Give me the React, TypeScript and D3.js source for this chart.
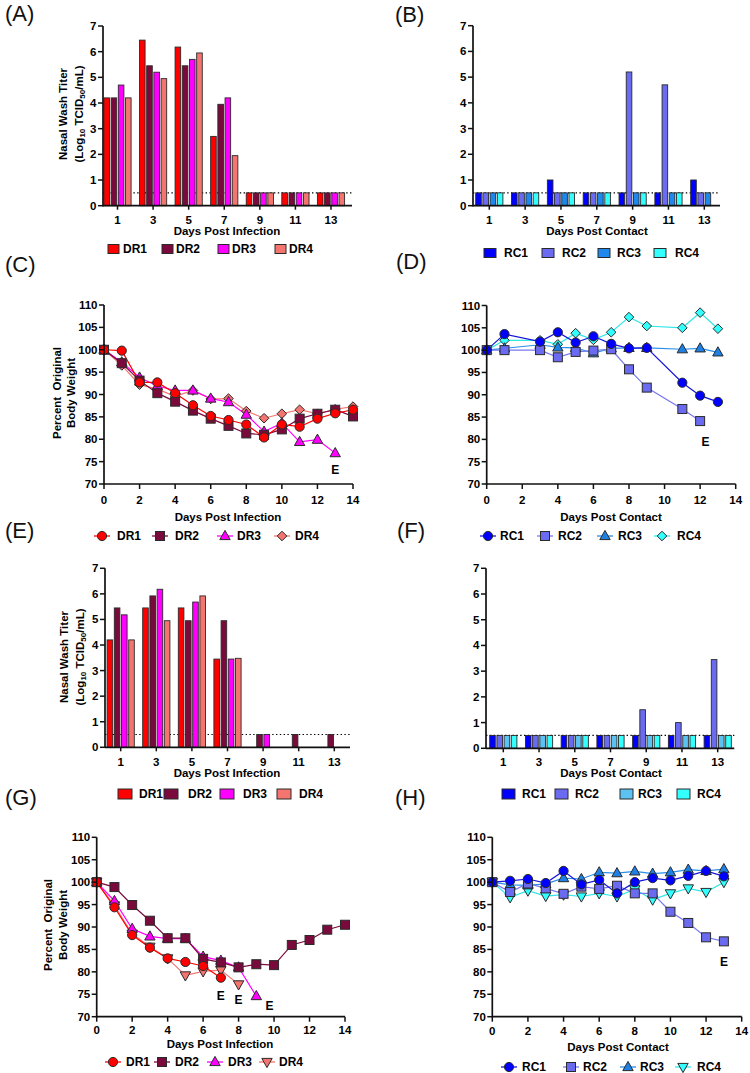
import React from 'react';
import * as d3 from 'd3';

const FONT = "'Liberation Sans', Arial, Helvetica, sans-serif";

// ---------- Bar data (nasal wash titers) ----------
const barDays = [1, 3, 5, 7, 9, 11, 13];
const drNames = ['DR1', 'DR2', 'DR3', 'DR4'];
const rcNames = ['RC1', 'RC2', 'RC3', 'RC4'];

const titerA_DR1 = [4.2, 6.45, 6.18, 2.7, 0.5, 0.5, 0.5];
const titerA_DR2 = [4.2, 5.45, 5.45, 3.95, 0.5, 0.5, 0.5];
const titerA_DR3 = [4.7, 5.2, 5.7, 4.2, 0.5, 0.5, 0.5];
const titerA_DR4 = [4.2, 4.95, 5.95, 1.95, 0.5, 0.5, 0.5];

const titerB_RC1 = [0.5, 0.5, 1.0, 0.5, 0.5, 0.5, 1.0];
const titerB_RC2 = [0.5, 0.5, 0.5, 0.5, 5.2, 4.7, 0.5];
const titerB_RC3 = [0.5, 0.5, 0.5, 0.5, 0.5, 0.5, 0.5];
const titerB_RC4 = [0.5, 0.5, 0.5, 0.5, 0.5, 0.5, null];

const titerE_DR1 = [4.2, 5.45, 5.45, 3.45, null, null, null];
const titerE_DR2 = [5.45, 5.92, 4.95, 4.95, 0.5, 0.5, 0.5];
const titerE_DR3 = [5.18, 6.18, 5.68, 3.45, 0.5, null, null];
const titerE_DR4 = [4.2, 4.95, 5.92, 3.48, null, null, null];

const titerF_RC1 = [0.5, 0.5, 0.5, 0.5, 0.5, 0.5, 0.5];
const titerF_RC2 = [0.5, 0.5, 0.5, 0.5, 1.5, 1.0, 3.45];
const titerF_RC3 = [0.5, 0.5, 0.5, 0.5, 0.5, 0.5, 0.5];
const titerF_RC4 = [0.5, 0.5, 0.5, 0.5, 0.5, 0.5, 0.5];

const titerTicks = [0, 1, 2, 3, 4, 5, 6, 7];
const limitOfDetection = 0.5;

// ---------- Weight data ----------
const weightTicks = [70, 75, 80, 85, 90, 95, 100, 105, 110];
const dayTicks = [0, 2, 4, 6, 8, 10, 12, 14];

const daysC = [0, 1, 2, 3, 4, 5, 6, 7, 8, 9, 10, 11, 12, 13, 14];
const wC_DR1 = [100, 99.8, 92.7, 92.7, 90.3, 87.6, 85.2, 84.3, 83.3, 80.4, 83.3, 82.8, 84.6, 85.8, 86.6];
const wC_DR2 = [100, 97.0, 93.1, 90.3, 88.4, 86.4, 84.6, 83.0, 81.3, 81.0, 82.2, 84.6, 85.7, 86.6, 85.1];
const wC_DR3 = [100, 97.2, 93.8, 91.9, 90.9, 90.9, 89.1, 88.3, 85.5, 81.7, 83.6, 79.4, 79.9, 76.9, null];
const wC_DR4 = [100, 96.5, 92.2, 91.2, 89.6, 90.9, 89.0, 89.1, 86.3, 84.7, 85.7, 86.6, 85.7, 86.7, 87.3];

const daysD = [0, 1, 3, 4, 5, 6, 7, 8, 9, 11, 12, 13];
const wD_RC1 = [100, 103.6, 101.9, 104.0, 101.7, 103.1, 101.4, 100.4, 100.5, 92.7, 89.8, 88.4];
const wD_RC2 = [100, 100, 100, 98.4, 99.6, 99.9, 100.2, 95.7, 91.6, 86.8, 84.1, null];
const wD_RC3 = [100, 100.4, 101.2, 100.6, 100.5, 99.3, 100.4, 100.5, 100.5, 100.2, 100.4, 99.5];
const wD_RC4 = [100, 102.2, 102.2, 101.3, 103.8, 102.3, 104.0, 107.4, 105.4, 105.0, 108.4, 104.8];

const daysG = [0, 1, 2, 3, 4, 5, 6, 7, 8, 9, 10, 11, 12, 13, 14];
const wG_DR1 = [100, 94.4, 88.2, 85.4, 83.0, 82.2, 81.3, 78.7, null, null, null, null, null, null, null];
const wG_DR2 = [100, 98.9, 94.9, 91.4, 87.5, 87.5, 82.9, 82.1, 81.0, 81.7, 81.5, 86.0, 87.1, 89.4, 90.5];
const wG_DR3 = [100, 95.8, 89.6, 87.9, 87.4, 87.4, 83.4, 82.5, 81.0, 74.6, null, null, null, null, null];
const wG_DR4 = [100, 94.8, 88.5, 85.6, 83.0, 79.2, 80.1, 80.4, 77.2, null, null, null, null, null, null];

const daysH = [0, 1, 2, 3, 4, 5, 6, 7, 8, 9, 10, 11, 12, 13];
const wH_RC1 = [100, 100.3, 100.7, 99.8, 102.5, 99.5, 100.5, 97.5, 100.0, 100.9, 100.4, 101.4, 102.5, 101.3];
const wH_RC2 = [100, 97.8, 99.7, 98.6, 97.4, 99.0, 98.5, 99.2, 97.5, 97.5, 93.4, 90.9, 87.7, 86.8];
const wH_RC3 = [100, 99.4, 99.3, 99.6, 100.9, 100.7, 102.2, 102.0, 102.4, 101.9, 102.2, 102.8, 102.5, 102.9];
const wH_RC4 = [100, 96.6, 98.1, 96.9, 97.2, 96.8, 97.5, 96.8, 98.4, 96.1, 97.5, 98.6, 97.8, 100.0];

// "E" (euthanized) annotations [day, value]
const endC = [[13, 73.2]];
const endD = [[12.3, 79.5]];
const endG = [[7, 74.7], [8, 73.8], [9.75, 72.4]];
const endH = [[13, 82.2]];

// ---------- colours ----------
const drColors = ['#ff0000', '#7b0a3c', '#ff00ff', '#f47570'];
const rcColorsB = ['#0000ff', '#6b6bf2', '#1e88ec', '#33ffff'];
const rcColorsF = ['#0000ff', '#6b6bf2', '#5cc2f2', '#33ffff'];
const rcMarkerColors = ['#0000ff', '#6b6bf2', '#1e80e2', '#33ffff'];
const rcLineColors = ['#1515d8', '#7878ee', '#2b8fe8', '#30e6e6'];

const AX = '#111';
const EDGE = '#2a2a2a';

function Marker({ shape, x, y, fill }) {
  const common = { fill, stroke: EDGE, strokeWidth: 1 };
  if (shape === 'circle') return <circle cx={x} cy={y} r={4.6} {...common} />;
  if (shape === 'square') return <rect x={x - 4.5} y={y - 4.5} width={9} height={9} {...common} />;
  if (shape === 'triangle')
    return <polygon points={`${x},${y - 5.6} ${x + 5.2},${y + 3.6} ${x - 5.2},${y + 3.6}`} {...common} />;
  if (shape === 'down')
    return <polygon points={`${x},${y + 5.6} ${x + 5.2},${y - 3.6} ${x - 5.2},${y - 3.6}`} {...common} />;
  // diamond
  return <polygon points={`${x},${y - 4.8} ${x + 4.8},${y} ${x},${y + 4.8} ${x - 4.8},${y}`} {...common} />;
}

function TiterTitle({ x1, x2, cy }) {
  return (
    <g fontFamily={FONT} fontWeight="bold" fontSize={11.5} fill="#000">
      <text transform={`translate(${x1},${cy}) rotate(-90)`} textAnchor="middle" dominantBaseline="central">
        Nasal Wash Titer
      </text>
      <text transform={`translate(${x2},${cy}) rotate(-90)`} textAnchor="middle" dominantBaseline="central">
        (Log<tspan fontSize={8} dy={3}>10</tspan>
        <tspan dy={-3}> TCID</tspan>
        <tspan fontSize={8} dy={3}>50</tspan>
        <tspan dy={-3}>/mL)</tspan>
      </text>
    </g>
  );
}

function WeightTitle({ x1, x2, cy }) {
  return (
    <g fontFamily={FONT} fontWeight="bold" fontSize={11.5} fill="#000">
      <text transform={`translate(${x1},${cy}) rotate(-90)`} textAnchor="middle" dominantBaseline="central" style={{ whiteSpace: 'pre' }}>
        {'Percent  Original'}
      </text>
      <text transform={`translate(${x2},${cy}) rotate(-90)`} textAnchor="middle" dominantBaseline="central">
        Body Weight
      </text>
    </g>
  );
}

function BarPanel({ cfg, series, names, colors }) {
  const x = d3.scaleLinear().domain([1, 13]).range([cfg.d1, cfg.d13]);
  const y = d3.scaleLinear().domain([0, 7]).range([cfg.y0, cfg.yTop]);
  const pitch = 7.2;
  const bw = 5.6;
  return (
    <g>
      <line x1={cfg.axisX} x2={cfg.axisEnd} y1={y(limitOfDetection)} y2={y(limitOfDetection)}
        stroke="#000" strokeWidth={1.2} strokeDasharray="1.4 2.4" />
      {series.map((vals, si) =>
        vals.map((v, di) =>
          v == null ? null : (
            <rect key={`${si}-${di}`} x={x(barDays[di]) + (si - 1.5) * pitch - bw / 2} y={y(v)}
              width={bw} height={y(0) - y(v)} fill={colors[si]} stroke={EDGE} strokeWidth={0.9} />
          )
        )
      )}
      {/* axes */}
      <line x1={cfg.axisX} x2={cfg.axisX} y1={y(0) + 0.8} y2={y(7)} stroke={AX} strokeWidth={1.7} />
      <line x1={cfg.axisX} x2={cfg.axisEnd} y1={y(0)} y2={y(0)} stroke={AX} strokeWidth={1.7} />
      <g fontFamily={FONT} fontWeight="bold" fontSize={11.5} fill="#000">
        {titerTicks.map((t) => (
          <g key={t}>
            <line x1={cfg.axisX - 5} x2={cfg.axisX} y1={y(t)} y2={y(t)} stroke={AX} strokeWidth={1.5} />
            <text x={cfg.axisX - 6.5} y={y(t) + 4} textAnchor="end">{t}</text>
          </g>
        ))}
        {barDays.map((d) => (
          <g key={d}>
            <line x1={x(d)} x2={x(d)} y1={y(0)} y2={y(0) + 4} stroke={AX} strokeWidth={1.5} />
            <text x={x(d)} y={cfg.tickY} textAnchor="middle">{d}</text>
          </g>
        ))}
        <text x={cfg.titleX} y={cfg.titleY} textAnchor="middle">{cfg.title}</text>
      </g>
      {/* legend */}
      <g fontFamily={FONT} fontWeight="bold" fontSize={12} fill="#000">
        {names.map((n, i) => (
          <g key={n}>
            <rect x={cfg.legBox[i]} y={cfg.legendY - cfg.boxH / 2} width={cfg.boxW} height={cfg.boxH}
              fill={colors[i]} stroke={EDGE} strokeWidth={1} />
            <text x={cfg.legText[i]} y={cfg.legendY + 4.3}>{n}</text>
          </g>
        ))}
      </g>
    </g>
  );
}

function LinePanel({ cfg, days, series, names, shapes, markerColors, lineColors, ends }) {
  const x = d3.scaleLinear().domain([0, 14]).range([cfg.x0, cfg.x14]);
  const y = d3.scaleLinear().domain([70, 110]).range([cfg.y70, cfg.y110]);
  const line = d3.line()
    .defined((d) => d[1] != null)
    .x((d) => x(d[0]))
    .y((d) => y(d[1]));
  const order = series.map((_, i) => i).reverse();
  return (
    <g>
      {order.map((si) => {
        const pts = days.map((d, i) => [d, series[si][i]]);
        return (
          <g key={si}>
            <path d={line(pts)} fill="none" stroke={lineColors[si]} strokeWidth={1.2} />
          </g>
        );
      })}
      {order.map((si) =>
        days.map((d, i) =>
          series[si][i] == null ? null : (
            <Marker key={`${si}-${i}`} shape={shapes[si]} x={x(d)} y={y(series[si][i])} fill={markerColors[si]} />
          )
        )
      )}
      <line x1={x(0)} x2={x(0)} y1={y(70) + 0.8} y2={y(110)} stroke={AX} strokeWidth={1.7} />
      <line x1={x(0)} x2={x(14)} y1={y(70)} y2={y(70)} stroke={AX} strokeWidth={1.7} />
      <g fontFamily={FONT} fontWeight="bold" fontSize={11.5} fill="#000">
        {weightTicks.map((t) => (
          <g key={t}>
            <line x1={x(0) - 5} x2={x(0)} y1={y(t)} y2={y(t)} stroke={AX} strokeWidth={1.5} />
            <text x={x(0) - 6.5} y={y(t) + 4} textAnchor="end">{t}</text>
          </g>
        ))}
        {dayTicks.map((d) => (
          <g key={d}>
            <line x1={x(d)} x2={x(d)} y1={y(70)} y2={y(70) + 5} stroke={AX} strokeWidth={1.5} />
            <text x={x(d)} y={cfg.tickY} textAnchor="middle">{d}</text>
          </g>
        ))}
        <text x={cfg.titleX} y={cfg.titleY} textAnchor="middle">{cfg.title}</text>
        {ends.map((e, i) => (
          <text key={i} x={x(e[0])} y={y(e[1]) + 4.3} textAnchor="middle" fontSize={12}>E</text>
        ))}
      </g>
      <g fontFamily={FONT} fontWeight="bold" fontSize={12} fill="#000">
        {names.map((n, i) => (
          <g key={n}>
            <line x1={cfg.legMark[i] - 8} x2={cfg.legMark[i] + 8} y1={cfg.legendY} y2={cfg.legendY}
              stroke={lineColors[i]} strokeWidth={1.3} />
            <Marker shape={shapes[i]} x={cfg.legMark[i]} y={cfg.legendY} fill={markerColors[i]} />
            <text x={cfg.legText[i]} y={cfg.legendY + 4.3}>{n}</text>
          </g>
        ))}
      </g>
    </g>
  );
}

const cfgA = { axisX: 103, y0: 205.7, yTop: 26, d1: 117.5, d13: 331, axisEnd: 352, tickY: 224, titleX: 227, titleY: 235,
  title: 'Days Post Infection', legendY: 249, legBox: [108, 162, 218, 275], legText: [123, 176, 232, 289], boxW: 11, boxH: 9 };
const cfgB = { axisX: 473, y0: 205.7, yTop: 25.7, d1: 489.3, d13: 704.3, axisEnd: 720, tickY: 224, titleX: 597, titleY: 235,
  title: 'Days Post Contact', legendY: 253, legBox: [484, 542, 598, 654], legText: [504, 562, 617, 675], boxW: 12, boxH: 9 };
const cfgE = { axisX: 105, y0: 747.3, yTop: 568.3, d1: 120.7, d13: 334.3, axisEnd: 350, tickY: 766, titleX: 227, titleY: 777,
  title: 'Days Post Infection', legendY: 794, legBox: [118, 164, 220, 277], legText: [139, 188, 243, 299], boxW: 14, boxH: 10 };
const cfgF = { axisX: 486, y0: 748.3, yTop: 568.3, d1: 503.3, d13: 717.7, axisEnd: 734.3, tickY: 766, titleX: 611, titleY: 777,
  title: 'Days Post Contact', legendY: 794, legBox: [502, 555, 620, 677], legText: [522, 575, 638, 697], boxW: 13, boxH: 10 };

const cfgC = { x0: 104, x14: 353, y70: 484, y110: 305, tickY: 504, titleX: 228, titleY: 521, title: 'Days Post Infection',
  legendY: 536, legMark: [102, 160, 225, 282], legText: [117, 175, 237, 295] };
const cfgD = { x0: 486.7, x14: 735.7, y70: 484, y110: 305.5, tickY: 504, titleX: 611, titleY: 521, title: 'Days Post Contact',
  legendY: 536, legMark: [488, 545, 605, 662], legText: [500, 558, 618, 677] };
const cfgG = { x0: 96.7, x14: 345, y70: 1016.7, y110: 837.3, tickY: 1034, titleX: 220, titleY: 1048, title: 'Days Post Infection',
  legendY: 1062, legMark: [113, 162, 215, 267], legText: [126, 175, 228, 279] };
const cfgH = { x0: 492.3, x14: 741.7, y70: 1016.7, y110: 837.3, tickY: 1035, titleX: 618, titleY: 1051, title: 'Days Post Contact',
  legendY: 1067, legMark: [509, 571, 628, 683], legText: [522, 583, 640, 697] };

const panelLabels = [
  { t: '(A)', x: 5, y: 21 }, { t: '(B)', x: 395, y: 22 },
  { t: '(C)', x: 5, y: 272 }, { t: '(D)', x: 396, y: 269 },
  { t: '(E)', x: 5, y: 538 }, { t: '(F)', x: 397, y: 538 },
  { t: '(G)', x: 5, y: 805 }, { t: '(H)', x: 395, y: 805 },
];

export default function App() {
  return (
    <svg width={750} height={1073} viewBox="0 0 750 1073"
      style={{ position: 'absolute', left: 0, top: 0, background: '#fff' }}>
      <rect x={0} y={0} width={750} height={1073} fill="#fff" />
      {panelLabels.map((p) => (
        <text key={p.t} x={p.x} y={p.y} fontFamily={FONT} fontSize={22} fill="#111">{p.t}</text>
      ))}

      <TiterTitle x1={63} x2={79} cy={114} />
      <BarPanel cfg={cfgA} series={[titerA_DR1, titerA_DR2, titerA_DR3, titerA_DR4]} names={drNames} colors={drColors} />
      <BarPanel cfg={cfgB} series={[titerB_RC1, titerB_RC2, titerB_RC3, titerB_RC4]} names={rcNames} colors={rcColorsB} />

      <WeightTitle x1={57} x2={71} cy={393} />
      <LinePanel cfg={cfgC} days={daysC} series={[wC_DR1, wC_DR2, wC_DR3, wC_DR4]} names={drNames}
        shapes={['circle', 'square', 'triangle', 'diamond']} markerColors={drColors} lineColors={drColors} ends={endC} />
      <LinePanel cfg={cfgD} days={daysD} series={[wD_RC1, wD_RC2, wD_RC3, wD_RC4]} names={rcNames}
        shapes={['circle', 'square', 'triangle', 'diamond']} markerColors={rcMarkerColors} lineColors={rcLineColors} ends={endD} />

      <TiterTitle x1={64} x2={80} cy={657} />
      <BarPanel cfg={cfgE} series={[titerE_DR1, titerE_DR2, titerE_DR3, titerE_DR4]} names={drNames} colors={drColors} />
      <BarPanel cfg={cfgF} series={[titerF_RC1, titerF_RC2, titerF_RC3, titerF_RC4]} names={rcNames} colors={rcColorsF} />

      <WeightTitle x1={48} x2={63} cy={925} />
      <LinePanel cfg={cfgG} days={daysG} series={[wG_DR1, wG_DR2, wG_DR3, wG_DR4]} names={drNames}
        shapes={['circle', 'square', 'triangle', 'down']} markerColors={drColors} lineColors={drColors} ends={endG} />
      <LinePanel cfg={cfgH} days={daysH} series={[wH_RC1, wH_RC2, wH_RC3, wH_RC4]} names={rcNames}
        shapes={['circle', 'square', 'triangle', 'down']} markerColors={rcMarkerColors} lineColors={rcLineColors} ends={endH} />
    </svg>
  );
}
